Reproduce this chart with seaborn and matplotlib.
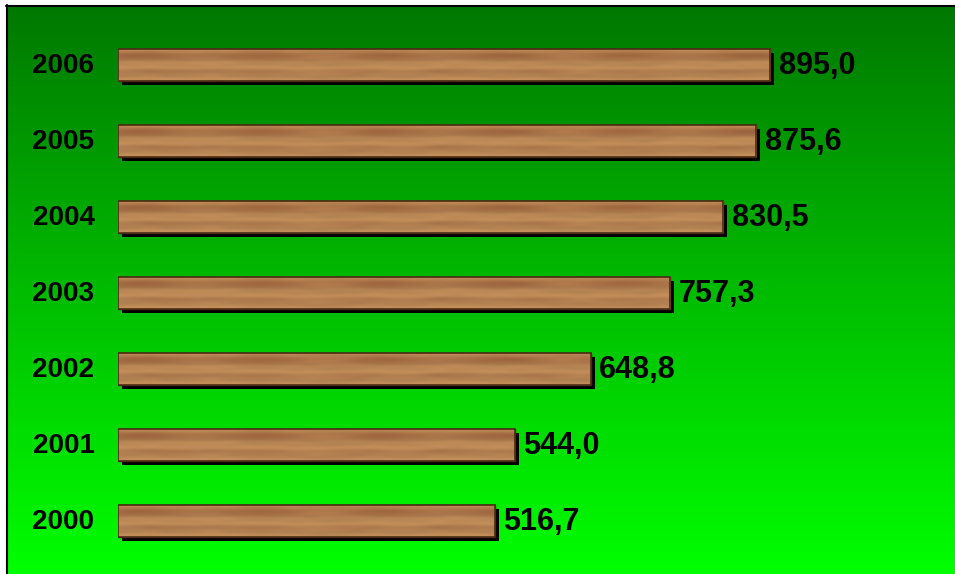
import numpy as np
import matplotlib
matplotlib.use("Agg")
import matplotlib.pyplot as plt
import matplotlib.transforms as mtrans
from matplotlib.patches import Rectangle
import seaborn as sns

years = ["2006", "2005", "2004", "2003", "2002", "2001", "2000"]
values = [895.0, 875.6, 830.5, 757.3, 648.8, 544.0, 516.7]

sns.set_style("white")
plt.rcParams["font.family"] = ["Liberation Sans", "DejaVu Sans"]

W, H = 955, 574
fig = plt.figure(figsize=(W / 100, H / 100), dpi=100)
fig.patch.set_facecolor("white")

# green gradient background with black left / top border
bg = fig.add_axes([7 / W, 0, 948 / W, 569 / H])
g = np.linspace(0.47, 1.0, 256)
grad = np.zeros((256, 1, 3))
grad[:, 0, 1] = g
bg.imshow(grad, aspect="auto", extent=(0, 1, 0, 1))
bg.set_axis_off()
fig.add_artist(plt.Line2D([6.5 / W, 6.5 / W], [0, 1 - 5 / H], color="black", lw=1.5))
fig.add_artist(plt.Line2D([6 / W, 1], [1 - 5.5 / H, 1 - 5.5 / H], color="black", lw=1.5))

ax = fig.add_axes([118 / W, 1 - 559 / H, 831 / W, 532 / H])
ax.set_facecolor("none")
sns.barplot(x=values, y=years, orient="h", order=years, color="#b07c4c",
            width=0.42, edgecolor="#4a2c14", linewidth=1.0, ax=ax)

# wood texture (deterministic soft streaks)
t = np.linspace(0, 1, 48)[:, None]
s = np.linspace(0, 900, 900)[None, :]
streak = (0.5 * np.sin(2 * np.pi * (t * 2.2 + 0.12 * np.sin(s / 61) + 0.06 * np.sin(s / 17)))
          + 0.25 * np.sin(2 * np.pi * (t * 5.5 + 0.08 * np.sin(s / 23)))
          + 0.2 * np.sin(s / 9.0) * np.sin(s / 31.0) * np.sin(2 * np.pi * t * 3.3))
top_dark = np.exp(-((t - 0.2) / 0.14) ** 2) * (0.55 + 0.45 * np.sin(s / 53 + 1) ** 2)
low_dark = np.exp(-((t - 0.72) / 0.1) ** 2) * (0.3 + 0.3 * np.sin(s / 41) ** 2)
tex = np.zeros((48, 900, 3))
base = np.array([186, 136, 86]) / 255
red = np.array([128, 66, 38]) / 255
for c in range(3):
    layer = base[c] * (1 + 0.07 * streak)
    mix = 0.5 * top_dark + 0.35 * low_dark
    tex[:, :, c] = layer * (1 - mix) + red[c] * mix
tex = np.clip(tex, 0, 1)

shadow_off = mtrans.ScaledTranslation(4 / 100, -4 / 100, fig.dpi_scale_trans)
for i, (bar, v) in enumerate(zip(ax.patches, values)):
    x0, y0 = bar.get_x(), bar.get_y()
    w, h = bar.get_width(), bar.get_height()
    sh = Rectangle((x0, y0), w, h, facecolor="black", edgecolor="none",
                   transform=ax.transData + shadow_off, zorder=1)
    ax.add_patch(sh)
    bar.set_zorder(2)
    im = ax.imshow(tex, extent=(0, 900, y0 + h, y0), aspect="auto", zorder=3,
                   interpolation="bilinear")
    im.set_clip_path(bar)
    edge = Rectangle((x0, y0), w, h, facecolor="none", edgecolor="#4a2c14",
                     lw=1.2, zorder=4)
    ax.add_patch(edge)
    ax.annotate(f"{v:.1f}".replace(".", ","), xy=(x0 + w, y0 + h / 2),
                xytext=(6, -0.5), textcoords="offset points", va="center",
                ha="left", fontsize=22, fontweight="bold", color="black")
    ax.annotate(years[i], xy=(0, y0 + h / 2), xytext=(-17, -0.5),
                textcoords="offset points", va="center", ha="right",
                fontsize=20, fontweight="bold", color="black",
                annotation_clip=False)

ax.set_xlim(0, 1140)
ax.set_ylim(6.5, -0.5)
ax.set_xticks([])
ax.set_yticks([])
ax.set_xlabel("")
ax.set_ylabel("")
for sp in ax.spines.values():
    sp.set_visible(False)

fig.savefig("out.png", dpi=100)
